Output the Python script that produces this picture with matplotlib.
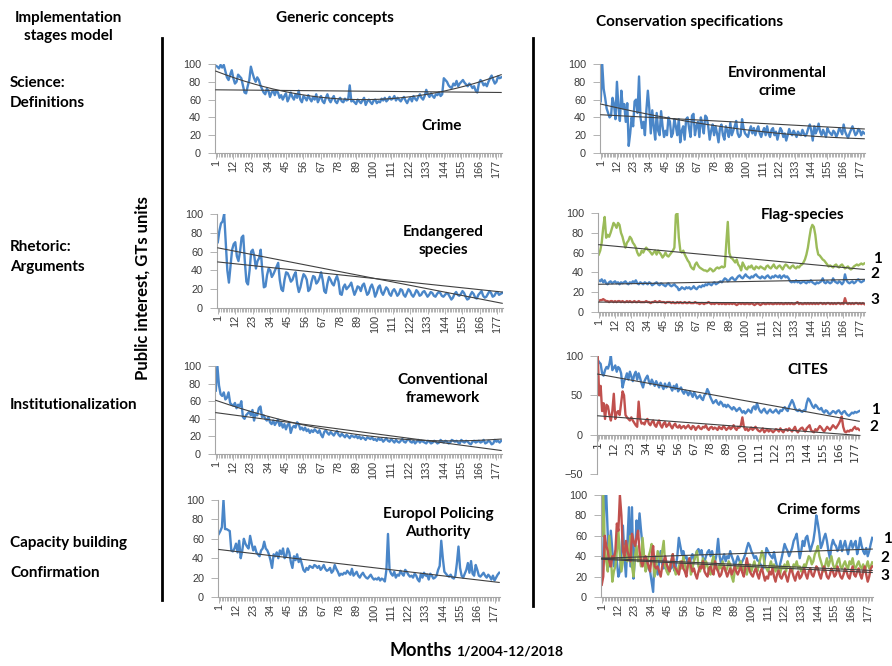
# Public interest (Google Trends) panels, 1/2004 - 12/2018, recreated with matplotlib
import numpy as np
import matplotlib
matplotlib.use('Agg')
import matplotlib.pyplot as plt
from matplotlib.ticker import MultipleLocator

# months 1..180
months = np.arange(1, 181)
xTicks = list(range(1, 181, 11))    # 1, 12, 23, ... 177

# ---- Generic concepts ----
crime = [98, 97, 95, 99, 96, 99, 92, 85, 82, 88,
         93, 84, 78, 80, 88, 86, 84, 76, 68, 67,
         75, 82, 97, 90, 84, 80, 85, 82, 76, 72,
         68, 66, 72, 70, 63, 68, 70, 65, 70, 68,
         62, 65, 60, 64, 67, 58, 62, 68, 63, 60,
         66, 62, 70, 60, 57, 64, 62, 59, 65, 61,
         58, 63, 60, 66, 57, 61, 64, 58, 56, 62,
         66, 60, 57, 61, 64, 58, 56, 60, 62, 58,
         57, 61, 59, 60, 76, 58, 59, 57, 55, 60,
         58, 56, 59, 62, 54, 58, 60, 57, 55, 59,
         60, 56, 58, 57, 61, 59, 62, 58, 60, 63,
         60, 61, 64, 59, 62, 60, 58, 61, 63, 59,
         56, 60, 62, 58, 64, 61, 59, 63, 66, 62,
         60, 64, 71, 66, 63, 67, 64, 62, 66, 65,
         68, 64, 66, 84, 82, 80, 76, 74, 73, 78,
         76, 81, 75, 78, 80, 82, 79, 77, 75, 78,
         76, 73, 75, 70, 68, 78, 82, 80, 76, 78,
         75, 80, 84, 87, 82, 78, 80, 86, 84, 85]

endangered = [70, 82, 90, 92, 100, 70, 40, 27, 45, 62,
              68, 70, 55, 50, 60, 75, 77, 50, 28, 25,
              40, 60, 62, 55, 42, 50, 53, 62, 40, 22,
              23, 35, 42, 40, 33, 36, 40, 44, 48, 30,
              20, 18, 30, 38, 37, 33, 28, 30, 35, 38,
              25, 17, 22, 30, 36, 34, 30, 18, 20, 28,
              34, 33, 26, 28, 32, 38, 30, 18, 16, 26,
              33, 30, 26, 24, 30, 34, 28, 15, 14, 22,
              25, 20, 22, 24, 27, 20, 14, 18, 23, 22,
              18, 24, 26, 20, 14, 16, 22, 25, 20, 12,
              16, 22, 24, 17, 14, 18, 22, 20, 15, 13,
              18, 20, 17, 13, 15, 20, 19, 14, 12, 16,
              20, 18, 14, 12, 15, 19, 17, 13, 14, 17,
              18, 15, 12, 14, 17, 16, 13, 12, 15, 17,
              16, 13, 12, 14, 16, 15, 12, 9, 11, 15,
              17, 14, 13, 15, 18, 16, 12, 9, 10, 14,
              17, 15, 11, 10, 14, 16, 18, 13, 11, 12,
              15, 18, 16, 12, 13, 16, 17, 14, 15, 16]

conventional = [72, 100, 78, 68, 66, 70, 62, 64, 70, 58,
                56, 55, 58, 52, 56, 54, 60, 42, 40, 44,
                46, 48, 44, 50, 38, 46, 44, 52, 54, 42,
                44, 40, 38, 42, 36, 34, 38, 33, 36, 39,
                32, 36, 30, 34, 28, 33, 35, 24, 30, 32,
                30, 36, 34, 28, 30, 27, 30, 26, 28, 24,
                27, 25, 28, 26, 24, 27, 22, 19, 25, 27,
                24, 22, 25, 23, 21, 24, 26, 22, 20, 23,
                21, 19, 22, 20, 18, 21, 20, 19, 21, 18,
                20, 17, 19, 18, 16, 19, 18, 17, 19, 16,
                17, 15, 18, 16, 17, 14, 16, 18, 15, 14,
                17, 15, 13, 16, 14, 13, 15, 17, 14, 13,
                16, 17, 14, 13, 15, 12, 14, 16, 13, 15,
                14, 13, 12, 15, 14, 12, 13, 15, 14, 12,
                13, 16, 14, 13, 15, 14, 12, 13, 16, 15,
                14, 15, 13, 12, 16, 14, 13, 15, 14, 12,
                11, 14, 15, 13, 14, 15, 13, 14, 16, 12,
                13, 15, 14, 11, 12, 16, 14, 15, 13, 15]

europol = [65, 68, 72, 100, 70, 70, 69, 68, 48, 47,
           50, 55, 46, 58, 40, 48, 60, 55, 52, 50,
           63, 55, 48, 52, 46, 44, 42, 48, 50, 57,
           50, 48, 44, 38, 30, 44, 42, 46, 40, 48,
           44, 50, 40, 42, 50, 46, 36, 30, 42, 38,
           44, 36, 40, 34, 28, 26, 30, 28, 32, 31,
           30, 33, 32, 30, 32, 28, 30, 33, 29, 27,
           28, 30, 25, 27, 33, 29, 26, 22, 24, 23,
           25, 24, 27, 25, 23, 29, 22, 24, 26, 22,
           20, 23, 25, 22, 20, 19, 21, 23, 20, 18,
           19, 18, 20, 17, 19, 18, 16, 28, 65, 28,
           24, 22, 26, 20, 23, 22, 27, 24, 22, 28,
           26, 23, 21, 22, 20, 24, 22, 18, 16, 24,
           20, 25, 22, 23, 18, 24, 22, 19, 20, 22,
           28, 32, 58, 40, 26, 24, 22, 21, 23, 20,
           19, 22, 35, 52, 30, 22, 20, 24, 28, 35,
           25, 37, 24, 22, 33, 28, 22, 21, 23, 25,
           22, 20, 23, 21, 18, 22, 17, 20, 23, 25]

# ---- Conservation specifications ----
envCrime = [58, 100, 72, 62, 50, 45, 40, 42, 62, 55,
            38, 80, 52, 36, 70, 50, 55, 35, 56, 8,
            22, 40, 30, 58, 60, 45, 86, 40, 28, 35,
            20, 48, 70, 50, 22, 48, 30, 15, 45, 25,
            20, 47, 30, 18, 25, 20, 40, 35, 18, 22,
            38, 30, 20, 38, 12, 25, 30, 15, 38, 40,
            28, 18, 42, 44, 20, 30, 35, 18, 40, 32,
            22, 42, 40, 30, 15, 25, 32, 20, 30, 22,
            12, 28, 32, 20, 15, 30, 25, 18, 34, 20,
            25, 30, 36, 22, 18, 20, 38, 28, 22, 20,
            18, 25, 30, 22, 28, 20, 26, 30, 22, 18,
            24, 28, 20, 30, 22, 18, 26, 28, 20, 24,
            15, 22, 28, 25, 18, 22, 14, 20, 27, 22,
            20, 25, 22, 18, 24, 21, 20, 26, 22, 19,
            22, 28, 32, 25, 14, 30, 22, 26, 33, 24,
            20, 26, 22, 18, 28, 24, 22, 20, 25, 23,
            18, 22, 28, 25, 21, 32, 24, 20, 17, 22,
            26, 30, 25, 20, 22, 27, 25, 20, 24, 22]

flagGreen = [58, 62, 70, 85, 96, 75, 78, 76, 80, 85,
             90, 88, 85, 90, 88, 80, 76, 70, 65, 70,
             72, 76, 74, 70, 68, 65, 60, 57, 58, 62,
             60, 63, 65, 63, 62, 60, 58, 60, 62, 58,
             62, 60, 58, 55, 57, 60, 57, 56, 58, 60,
             62, 65, 98, 100, 75, 62, 60, 62, 58, 55,
             52, 50, 46, 44, 43, 48, 50, 47, 45, 44,
             43, 42, 42, 41, 42, 44, 43, 41, 42, 44,
             45, 44, 45, 46, 45, 46, 70, 91, 60, 55,
             54, 52, 50, 53, 48, 46, 42, 50, 47, 44,
             43, 46, 45, 47, 44, 43, 46, 45, 44, 46,
             45, 44, 43, 46, 47, 45, 44, 46, 48, 45,
             44, 46, 47, 45, 43, 46, 48, 47, 45, 44,
             46, 47, 45, 44, 46, 45, 47, 48, 50, 53,
             58, 65, 75, 84, 88, 86, 78, 65, 58, 57,
             55, 53, 52, 50, 48, 46, 47, 46, 45, 47,
             48, 46, 45, 47, 48, 46, 44, 45, 46, 44,
             43, 44, 46, 47, 48, 47, 48, 49, 48, 49]

flagBlue = [32, 31, 33, 30, 32, 29, 28, 30, 31, 29,
            30, 31, 29, 30, 28, 30, 29, 30, 31, 29,
            28, 30, 29, 31, 30, 32, 29, 28, 30, 29,
            28, 30, 29, 28, 30, 29, 27, 28, 29, 30,
            28, 27, 29, 28, 27, 26, 28, 29, 27, 26,
            27, 28, 26, 25, 22, 23, 25, 24, 23, 25,
            24, 25, 23, 24, 26, 24, 23, 25, 26, 25,
            27, 26, 28, 27, 29, 28, 27, 29, 30, 28,
            29, 30, 31, 30, 32, 34, 33, 31, 32, 34,
            35, 33, 32, 34, 36, 37, 35, 34, 36, 38,
            36, 35, 34, 36, 35, 37, 38, 36, 35, 34,
            36, 35, 34, 36, 37, 35, 34, 36, 35, 37,
            36, 35, 37, 34, 36, 37, 35, 36, 34, 31,
            30, 31, 30, 32, 30, 31, 29, 30, 31, 30,
            29, 31, 30, 32, 30, 29, 28, 30, 29, 30,
            31, 34, 30, 29, 31, 30, 29, 30, 34, 31,
            30, 29, 31, 30, 28, 30, 38, 32, 30, 29,
            30, 31, 29, 30, 32, 33, 31, 30, 31, 32]

flagRed = [11, 12, 12, 13, 12, 11, 11, 10, 11, 11,
           10, 11, 10, 11, 11, 10, 11, 10, 10, 11,
           10, 11, 10, 10, 11, 10, 10, 11, 10, 10,
           10, 10, 11, 10, 10, 9, 10, 10, 11, 10,
           10, 11, 10, 10, 10, 9, 10, 10, 10, 9,
           10, 9, 9, 10, 9, 10, 9, 9, 10, 9,
           9, 10, 9, 9, 9, 10, 9, 9, 8, 9,
           9, 8, 9, 9, 10, 9, 8, 9, 8, 9,
           9, 8, 9, 8, 9, 8, 8, 9, 8, 9,
           8, 9, 8, 7, 8, 9, 8, 9, 8, 8,
           9, 8, 8, 9, 8, 7, 8, 9, 8, 7,
           8, 9, 8, 8, 9, 8, 9, 8, 8, 9,
           8, 9, 8, 9, 8, 8, 9, 8, 9, 8,
           9, 8, 8, 9, 10, 8, 9, 8, 8, 9,
           8, 9, 8, 9, 8, 9, 8, 9, 8, 9,
           9, 8, 9, 8, 9, 9, 8, 9, 8, 9,
           8, 9, 9, 8, 9, 8, 14, 9, 8, 9,
           8, 9, 8, 9, 9, 8, 9, 8, 9, 8]

citesBlue = [95, 92, 90, 78, 75, 82, 86, 84, 90, 100,
             82, 85, 88, 80, 86, 84, 78, 60, 68, 72,
             78, 70, 80, 74, 68, 76, 80, 70, 78, 72,
             65, 60, 68, 72, 75, 68, 64, 70, 66, 62,
             68, 64, 60, 66, 62, 58, 65, 60, 62, 66,
             60, 56, 62, 58, 64, 55, 58, 60, 55, 52,
             56, 54, 50, 55, 52, 48, 54, 50, 46, 48,
             50, 46, 44, 50, 52, 58, 54, 48, 44, 40,
             42, 44, 40, 38, 42, 40, 36, 38, 35, 38,
             36, 34, 32, 35, 33, 30, 32, 34, 31, 28,
             30, 27, 29, 32, 30, 28, 34, 36, 32, 40,
             34, 30, 28, 31, 33, 29, 27, 30, 32, 29,
             28, 30, 32, 29, 27, 31, 30, 33, 35, 32,
             30, 36, 40, 44, 40, 34, 31, 30, 32, 30,
             29, 31, 30, 40, 46, 44, 40, 36, 34, 38,
             36, 33, 32, 34, 30, 28, 31, 30, 27, 26,
             28, 30, 29, 27, 30, 31, 28, 26, 29, 30,
             27, 25, 24, 26, 28, 27, 29, 28, 29, 30]

citesRed = [100, 50, 62, 30, 40, 20, 38, 36, 25, 18,
            30, 52, 20, 28, 30, 25, 40, 55, 50, 25,
            22, 20, 18, 22, 18, 15, 12, 10, 42, 20,
            14, 15, 13, 18, 20, 14, 12, 16, 18, 12,
            10, 15, 18, 12, 9, 14, 16, 10, 12, 15,
            11, 8, 12, 14, 10, 9, 12, 8, 10, 11,
            8, 10, 12, 9, 7, 11, 10, 6, 9, 11,
            8, 7, 10, 9, 12, 8, 6, 9, 10, 7,
            9, 8, 6, 10, 8, 7, 11, 9, 6, 8,
            10, 7, 9, 12, 8, 6, 10, 9, 12, 22,
            10, 6, 8, 5, 7, 9, 6, 8, 10, 7,
            5, 4, 6, 8, 3, 5, 7, 4, 6, 5,
            3, 5, 7, 6, 4, 8, 5, 3, 6, 7,
            5, 8, 6, 4, 7, 10, 5, 3, 6, 8,
            9, 6, 4, 8, 10, 12, 6, 4, 3, 7,
            5, 8, 11, 9, 6, 4, 7, 10, 8, 6,
            9, 12, 10, 8, 11, 14, 18, 23, 10, 4,
            3, 5, 4, 6, 5, 8, 10, 7, 8, 6]

formsBlue = [20, 40, 100, 100, 60, 30, 65, 45, 30, 45,
             35, 20, 25, 45, 70, 40, 20, 55, 88, 30,
             88, 18, 40, 75, 60, 82, 65, 50, 40, 30,
             35, 28, 25, 15, 5, 40, 30, 22, 35, 45,
             32, 28, 35, 30, 25, 30, 28, 35, 26, 30,
             40, 58, 50, 42, 45, 38, 40, 32, 30, 38,
             42, 36, 40, 45, 47, 42, 46, 38, 35, 40,
             44, 46, 40, 45, 38, 35, 42, 57, 40, 32,
             38, 42, 35, 40, 38, 45, 40, 36, 30, 35,
             40, 36, 32, 35, 38, 42, 48, 53, 50, 45,
             42, 38, 40, 36, 35, 32, 30, 28, 38, 48,
             45, 42, 40, 38, 44, 36, 30, 25, 32, 38,
             45, 52, 48, 45, 40, 44, 48, 55, 58, 62,
             50, 38, 45, 55, 50, 58, 60, 52, 45, 50,
             55, 65, 80, 72, 62, 48, 52, 58, 62, 55,
             45, 38, 50, 56, 52, 50, 45, 48, 55, 45,
             50, 55, 48, 42, 50, 55, 48, 52, 55, 42,
             48, 58, 50, 45, 42, 48, 40, 45, 52, 58]

formsGreen = [60, 100, 50, 35, 25, 60, 40, 15, 25, 30,
              45, 65, 40, 25, 35, 50, 40, 35, 45, 60,
              30, 20, 40, 50, 35, 40, 30, 58, 40, 25,
              30, 40, 45, 52, 35, 20, 30, 45, 40, 35,
              45, 55, 30, 25, 22, 30, 35, 42, 28, 22,
              25, 30, 35, 28, 40, 32, 25, 30, 38, 22,
              28, 35, 40, 45, 30, 25, 32, 38, 28, 35,
              30, 25, 22, 35, 40, 28, 30, 25, 32, 28,
              35, 30, 25, 28, 35, 32, 20, 15, 25, 30,
              28, 32, 35, 25, 30, 28, 22, 30, 32, 25,
              30, 35, 28, 25, 32, 38, 45, 40, 30, 28,
              25, 30, 35, 28, 32, 25, 30, 28, 22, 30,
              28, 32, 25, 35, 30, 28, 25, 32, 30, 35,
              28, 30, 25, 28, 32, 30, 35, 40, 38, 32,
              35, 42, 45, 50, 40, 35, 30, 25, 32, 38,
              30, 35, 40, 32, 28, 30, 35, 38, 30, 28,
              32, 35, 30, 28, 35, 32, 38, 30, 28, 32,
              35, 30, 28, 32, 25, 30, 35, 28, 30, 34]

formsRed = [12, 20, 60, 50, 45, 35, 30, 40, 38, 45,
            72, 65, 100, 80, 45, 40, 55, 45, 40, 35,
            62, 55, 50, 58, 65, 45, 35, 30, 38, 40,
            35, 30, 25, 40, 50, 30, 28, 30, 25, 20,
            30, 35, 40, 32, 28, 25, 35, 42, 30, 28,
            25, 22, 30, 35, 28, 25, 20, 32, 38, 30,
            25, 28, 22, 18, 25, 30, 28, 35, 25, 22,
            20, 28, 30, 25, 22, 35, 28, 25, 20, 22,
            28, 30, 25, 20, 24, 28, 22, 26, 30, 25,
            22, 26, 30, 24, 20, 28, 38, 30, 25, 22,
            20, 25, 28, 22, 18, 25, 28, 22, 16, 20,
            18, 25, 22, 28, 20, 15, 22, 26, 20, 18,
            22, 25, 20, 15, 22, 28, 25, 20, 16, 22,
            25, 18, 20, 24, 28, 22, 18, 25, 28, 22,
            20, 25, 30, 28, 22, 18, 25, 30, 26, 20,
            18, 22, 28, 25, 20, 22, 30, 25, 20, 18,
            22, 28, 25, 20, 18, 25, 30, 22, 20, 25,
            28, 22, 18, 25, 30, 22, 15, 20, 28, 30]

# trend lines: values at month 1, (90,) 180
crimeTrends = [[71, 68], [92, 60, 88]]
endangeredTrends = [[64, 5], [49, 17]]
conventionalTrends = [[47, 4], [61, 22, 17]]
europolTrends = [[49, 15]]
envCrimeTrends = [[43, 27], [55, 28, 16]]
flagTrends = [[68, 43], [28, 33], [10, 9]]
citesTrends = [[77, 17], [24, -1]]
formsTrends = [[38, 47], [38, 26], [37, 24]]

blue = '#4a86c8'
green = '#9bbb59'
red = '#c0504d'
trendColor = '#404040'

W, H = 892, 666
fig = plt.figure(figsize=(W / 100, H / 100), dpi=100)


def box(left, top, right, bottom):
    # pixel box -> figure fraction rectangle
    return [left / W, 1 - bottom / H, (right - left) / W, (bottom - top) / H]


def ftext(x, y, s, size=11, ha='center', va='center', **kw):
    fig.text(x / W, 1 - y / H, s, fontsize=size, ha=ha, va=va,
             family='Lato', weight='bold', **kw)


def panel(rect, ylo=0, yhi=100, step=20):
    ax = fig.add_axes(rect)
    ax.set_xlim(0.5, 180.5)
    ax.set_ylim(ylo, yhi)
    ax.set_yticks(range(ylo, yhi + 1, step))
    ax.set_xticks(xTicks)
    ax.xaxis.set_minor_locator(MultipleLocator(1))
    for side in ['top', 'right']:
        ax.spines[side].set_visible(False)
    for side in ['left', 'bottom']:
        ax.spines[side].set_color('#a6a6a6')
        ax.spines[side].set_linewidth(0.8)
    ax.tick_params(axis='both', which='both', colors='#a6a6a6', labelcolor='#3a3a3a',
                   labelsize=7.8, width=0.6)
    ax.tick_params(axis='x', which='major', length=4, labelrotation=90, pad=1)
    ax.tick_params(axis='x', which='minor', length=3)
    ax.tick_params(axis='y', length=5, pad=5)
    for lab in ax.get_xticklabels() + ax.get_yticklabels():
        lab.set_family('Liberation Sans')
    ax.patch.set_alpha(0)
    return ax


def trend(ax, vals):
    xs = np.linspace(1, 180, len(vals))
    coef = np.polyfit(xs, vals, len(vals) - 1)
    ax.plot(months, np.polyval(coef, months), color=trendColor, lw=0.8, zorder=5)


# left column
ax1 = panel(box(215, 64, 502, 153))
ax1.plot(months, crime, color=blue, lw=1.7)
for t in crimeTrends:
    trend(ax1, t)

ax2 = panel(box(217, 214, 503, 308))
ax2.plot(months, endangered, color=blue, lw=1.7)
for t in endangeredTrends:
    trend(ax2, t)

ax3 = panel(box(215, 366, 502, 454))
ax3.plot(months, conventional, color=blue, lw=1.7)
for t in conventionalTrends:
    trend(ax3, t)

ax4 = panel(box(218, 500, 500, 597))
ax4.plot(months, europol, color=blue, lw=1.7)
for t in europolTrends:
    trend(ax4, t)

# right column
ax5 = panel(box(600, 64, 865, 153))
ax5.plot(months, envCrime, color=blue, lw=1.7)
for t in envCrimeTrends:
    trend(ax5, t)

ax6 = panel(box(598, 213, 865, 312))
ax6.plot(months, flagGreen, color=green, lw=1.7)
ax6.plot(months, flagBlue, color=blue, lw=1.7)
ax6.plot(months, flagRed, color=red, lw=1.7)
for t in flagTrends:
    trend(ax6, t)

ax7 = panel(box(597, 356, 860, 474), ylo=-50, yhi=100, step=50)
ax7.spines['bottom'].set_position(('data', 0))
ax7.plot(months, citesBlue, color=blue, lw=1.7)
ax7.plot(months, citesRed, color=red, lw=1.7)
for t in citesTrends:
    trend(ax7, t)

ax8 = panel(box(601, 495, 873, 597))
ax8.plot(months, formsBlue, color=blue, lw=1.7)
ax8.plot(months, formsGreen, color=green, lw=1.7)
ax8.plot(months, formsRed, color=red, lw=1.7)
for t in formsTrends:
    trend(ax8, t)

# panel titles
ftext(442, 126, 'Crime')
ftext(443, 241, 'Endangered\nspecies', linespacing=1.3)
ftext(443, 389, 'Conventional\nframework', linespacing=1.3)
ftext(438, 523, 'Europol Policing\nAuthority', linespacing=1.3)
ftext(777, 82, 'Environmental\ncrime', linespacing=1.3)
ftext(803, 215, 'Flag-species')
ftext(808, 370, 'CITES')
ftext(819, 510, 'Crime forms')

# series numbers on the right
for x, y, s in [(877, 259, '1'), (875, 274, '2'), (875, 300, '3'),
                (875, 410, '1'), (874, 427, '2'),
                (887, 539, '1'), (885, 558, '2'), (885, 576, '3')]:
    ftext(x, y, s, size=11)

# column headers and row labels
ftext(68, 27, 'Implementation\nstages model', size=11, linespacing=1.4)
ftext(335, 18, 'Generic concepts', size=11)
ftext(690, 22, 'Conservation specifications', size=11)
ftext(10, 93, 'Science:\nDefinitions', size=11, ha='left', linespacing=1.5)
ftext(10, 257, 'Rhetoric:\nArguments', size=11, ha='left', linespacing=1.5)
ftext(10, 405, 'Institutionalization', size=11, ha='left')
ftext(10, 543, 'Capacity building', size=11, ha='left')
ftext(10, 573, 'Confirmation', size=11, ha='left')
ftext(143, 288, 'Public interest, GTs units', size=12, rotation=90)
ftext(452, 650, 'Months', size=13, ha='right')
ftext(456, 652, '1/2004-12/2018', size=10, ha='left')

# column divider lines
fig.add_artist(plt.Line2D([162 / W, 162 / W], [1 - 38 / H, 1 - 600 / H], color='black', lw=2))
fig.add_artist(plt.Line2D([533 / W, 533 / W], [1 - 38 / H, 1 - 606 / H], color='black', lw=2))

plt.savefig('out.png', dpi=100)
